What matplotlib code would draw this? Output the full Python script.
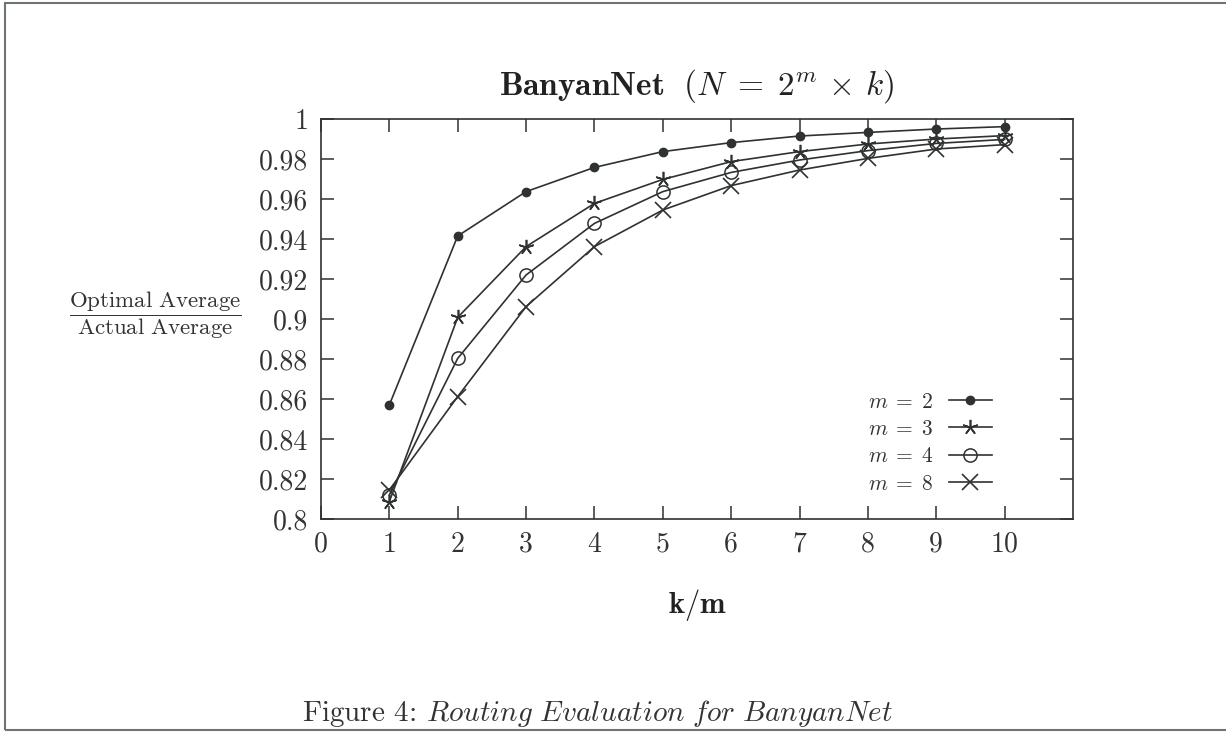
import matplotlib

matplotlib.use("Agg")
import matplotlib.pyplot as plt
from matplotlib.legend_handler import HandlerLine2D
from matplotlib.lines import Line2D
from matplotlib.patches import Rectangle

plt.rcParams["font.family"] = "cmr10"
plt.rcParams["mathtext.fontset"] = "cm"
plt.rcParams["axes.formatter.use_mathtext"] = True

INK = "#2e3230"

ratio = [1, 2, 3, 4, 5, 6, 7, 8, 9, 10]
m2 = [0.857, 0.9415, 0.9637, 0.9758, 0.9837, 0.9882, 0.9915, 0.9933, 0.995, 0.9962]
m3 = [0.8087, 0.9008, 0.9362, 0.9578, 0.9698, 0.9787, 0.9837, 0.9875, 0.990, 0.9917]
m4 = [0.812, 0.8803, 0.922, 0.9478, 0.9637, 0.9733, 0.9795, 0.9842, 0.9878, 0.9898]
m8 = [0.8145, 0.8612, 0.9062, 0.9362, 0.9545, 0.9667, 0.9745, 0.9803, 0.985, 0.9872]

x_ticks = [0, 1, 2, 3, 4, 5, 6, 7, 8, 9, 10]
y_ticks = [0.8, 0.82, 0.84, 0.86, 0.88, 0.9, 0.92, 0.94, 0.96, 0.98, 1.0]
y_labels = ["0.8", "0.82", "0.84", "0.86", "0.88", "0.9", "0.92", "0.94", "0.96", "0.98", "1"]


class LeftMarkerHandler(HandlerLine2D):
    # gnuplot style key: marker sits left of the line centre
    def get_xdata(self, legend, xdescent, ydescent, width, height, fontsize):
        xdata, _ = super().get_xdata(legend, xdescent, ydescent, width, height, fontsize)
        return xdata, [-xdescent + 0.33 * width]


fig = plt.figure(figsize=(12.26, 7.32), dpi=100)
ax = fig.add_axes([0.2618, 0.2910, 0.6134, 0.5464])

series = [
    (r"$m\;=\;2$", m2, dict(marker="o", markersize=6, markerfacecolor=INK)),
    (r"$m\;=\;3$", m3, dict(marker=(5, 2, 0), markersize=11, markeredgewidth=1.2)),
    (r"$m\;=\;4$", m4, dict(marker="o", markersize=9.5, markerfacecolor="none", markeredgewidth=1.1)),
    (r"$m\;=\;8$", m8, dict(marker="x", markersize=12, markeredgewidth=1.2)),
]
for label, values, style in series:
    ax.plot(ratio, values, color=INK, linewidth=1.2, markeredgecolor=INK, label=label, **style)

ax.set_xlim(0, 11)
ax.set_ylim(0.8, 1.0)
ax.set_xticks(x_ticks)
ax.set_xticklabels([str(t) for t in x_ticks])
ax.set_yticks(y_ticks)
ax.set_yticklabels(y_labels)
ax.tick_params(direction="in", length=9.5, width=1.1, color=INK, labelsize=20,
               labelcolor="#333333", top=True, right=True, pad=9)
for spine in ax.spines.values():
    spine.set_color(INK)
    spine.set_linewidth(1.2)

ax.legend(loc="center right", bbox_to_anchor=(0.918, 0.19), frameon=False,
          markerfirst=False, numpoints=1, handlelength=2.0, fontsize=15.5,
          labelspacing=0.37, handletextpad=0.7, labelcolor="#333333",
          handler_map={Line2D: LeftMarkerHandler()})

fig.text(0.5685, 0.882, r"$\mathbf{BanyanNet}\ \ (N\;=\;2^m\,\times\,k)$",
         ha="center", va="center", fontsize=24, color="#222222")
fig.text(0.5685, 0.173, r"$\mathbf{k/m}$", ha="center", va="center",
         fontsize=22, color="#222222")
fig.text(0.1264, 0.5697, r"$\dfrac{\mathrm{Optimal\ Average}}{\mathrm{Actual\ Average}}$",
         ha="center", va="center", fontsize=16.5, color="#333333")
fig.text(0.487, 0.025, r"Figure 4: $\mathit{Routing\ Evaluation\ for\ BanyanNet}$",
         ha="center", va="center", fontsize=21, color="#333333")

fig.patches.append(Rectangle((0.004, 0.003), 1.2, 0.993, transform=fig.transFigure,
                             fill=False, edgecolor="#6e7470", linewidth=1.5))

fig.savefig("out.png", dpi=100)
